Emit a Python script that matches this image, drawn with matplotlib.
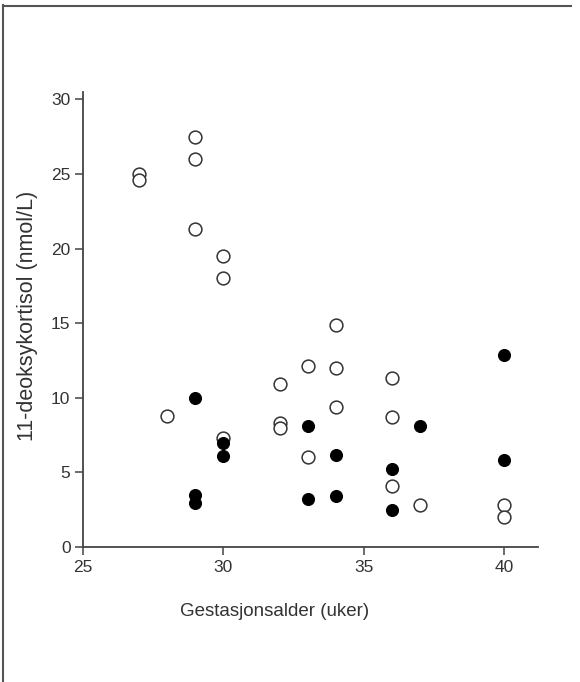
"""Scatter of 11-deoksykortisol vs gestasjonsalder, open and filled groups."""

import matplotlib
matplotlib.use("Agg")
import matplotlib.pyplot as plt
from matplotlib.lines import Line2D

plt.rcParams["font.family"] = ["Liberation Sans", "DejaVu Sans"]

# open circles
open_weeks = [27, 27, 29, 29, 29, 30, 30, 28, 30, 32, 32, 32, 33, 33,
              34, 34, 34, 36, 36, 36, 37, 40, 40]
open_vals = [25.0, 24.6, 27.5, 26.0, 21.3, 19.5, 18.0, 8.8, 7.3, 10.9,
             8.3, 8.0, 12.1, 6.0, 14.9, 12.0, 9.4, 11.3, 8.7, 4.1,
             2.8, 2.8, 2.0]

# filled circles
filled_weeks = [29, 29, 29, 30, 30, 33, 33, 34, 34, 36, 36, 37, 40, 40]
filled_vals = [10.0, 3.5, 2.95, 7.0, 6.1, 8.1, 3.2, 6.15, 3.45, 5.2,
               2.5, 8.1, 12.9, 5.85]

x_ticks = [25, 30, 35, 40]
y_ticks = [0, 5, 10, 15, 20, 25, 30]

DARK = "#333333"

fig = plt.figure(figsize=(5.8, 6.82), dpi=100)
ax = fig.add_axes([83 / 580, 135 / 682, 455 / 580, 455 / 682])

ax.plot(open_weeks, open_vals, "o", ms=9.2, mfc="white", mec=DARK,
        mew=1.1, linestyle="none", zorder=3)
ax.plot(filled_weeks, filled_vals, "o", ms=8.6, mfc="black", mec="black",
        mew=0.8, linestyle="none", zorder=4)

ax.set_xlim(25, 41.2)
ax.set_ylim(0, 30.5)
ax.set_xticks(x_ticks)
ax.set_yticks(y_ticks)

for side in ("top", "right"):
    ax.spines[side].set_visible(False)
for side in ("left", "bottom"):
    ax.spines[side].set_color("#444444")
    ax.spines[side].set_linewidth(1.3)

ax.tick_params(direction="out", length=6, width=1.1, color="#444444",
               labelsize=12.5, labelcolor=DARK, pad=3)

ax.set_xlabel("Gestasjonsalder (uker)", fontsize=13.5, color=DARK)
ax.set_ylabel("11-deoksykortisol (nmol/L)", fontsize=15.5, color=DARK)
ax.xaxis.set_label_coords(0.422, -0.123)
ax.yaxis.set_label_coords(-0.099, 0.508)

# frame lines around the figure (top and left only)
fig.add_artist(Line2D([2.5 / 580, 2.5 / 580], [0, 1 - 5 / 682],
                      transform=fig.transFigure, color="#555555", lw=1.5))
fig.add_artist(Line2D([2.5 / 580, 571 / 580], [1 - 5.5 / 682, 1 - 5.5 / 682],
                      transform=fig.transFigure, color="#555555", lw=1.5))

fig.savefig("out.png", dpi=100)
plt.close(fig)
